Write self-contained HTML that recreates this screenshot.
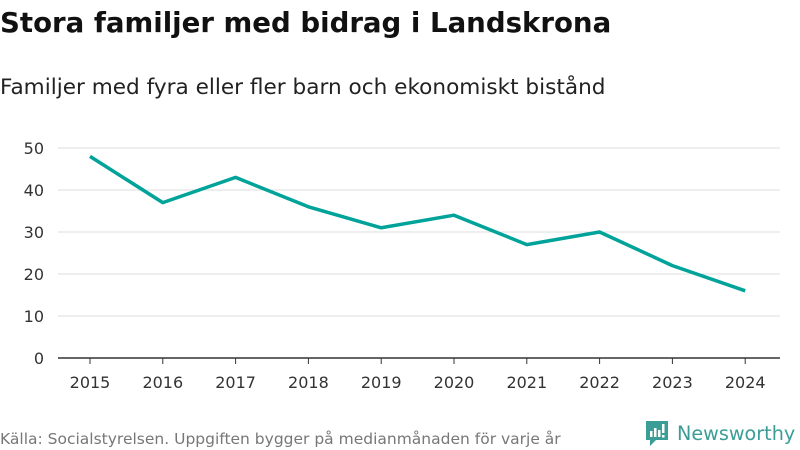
<!DOCTYPE html>
<html><head><meta charset="utf-8"><style>
body{margin:0;width:800px;height:450px;background:#fff;font-family:"DejaVu Sans","Liberation Sans",sans-serif;overflow:hidden}
svg{position:absolute;left:0;top:0}
</style></head><body>
<svg width="800" height="450">
<text x="0" y="32" font-size="27.6" font-weight="bold" fill="#111">Stora familjer med bidrag i Landskrona</text>
<text x="0" y="94" font-size="21.6" fill="#222">Familjer med fyra eller fler barn och ekonomiskt bistånd</text>
<g id="grid"></g><g id="xax"></g>
<polyline id="line" fill="none" stroke="#00a39a" stroke-width="3.5" stroke-linejoin="round"/>
<text x="0" y="444" font-size="15.5" fill="#777">Källa: Socialstyrelsen. Uppgiften bygger på medianmånaden för varje år</text>
<g>
<path d="M646 421h22v19h-12l-6 6v-6h-4z" fill="#3a9e96"/>
<rect x="650" y="431" width="2.5" height="6" fill="#fff"/><rect x="654" y="428" width="2.5" height="9" fill="#fff"/><rect x="658" y="430" width="2.5" height="7" fill="#fff"/><rect x="662" y="424" width="2.5" height="9" fill="#fff"/><rect x="662" y="435" width="2.5" height="2.5" fill="#fff"/>
<text x="677" y="440" font-size="19.2" fill="#3a9e96">Newsworthy</text></g>
</svg>
<script>
const years=["2015","2016","2017","2018","2019","2020","2021","2022","2023","2024"];
const values=[48,37,43,36,31,34,27,30,22,16];
const yTicks=[0,10,20,30,40,50];
const NS="http://www.w3.org/2000/svg";
const x=i=>90+i*72.8, y=v=>358-v*4.2;
const grid=document.getElementById('grid'), xax=document.getElementById('xax');
function mk(t,a,p){const e=document.createElementNS(NS,t);for(const k in a)e.setAttribute(k,a[k]);p.appendChild(e);return e;}
yTicks.forEach(v=>{
 const l=mk('line',{x1:58,x2:780,y1:y(v),y2:y(v),stroke:v?'#ddd':'#333','stroke-width':v?1:1.5},grid);
 
 
 const t=mk('text',{x:44,y:y(v)+6,'font-size':16,fill:'#333','text-anchor':'end'},grid);t.textContent=v;
 
 
});
years.forEach((yr,i)=>{
 mk('line',{x1:x(i),x2:x(i),y1:358,y2:364,stroke:'#333'},xax);
 const t=mk('text',{x:x(i),y:388,'font-size':16,fill:'#333','text-anchor':'middle'},xax);t.textContent=yr;
 
 
});
document.getElementById('line').setAttribute('points',values.map((v,i)=>x(i)+','+y(v)).join(' '));
</script>
</body></html>
